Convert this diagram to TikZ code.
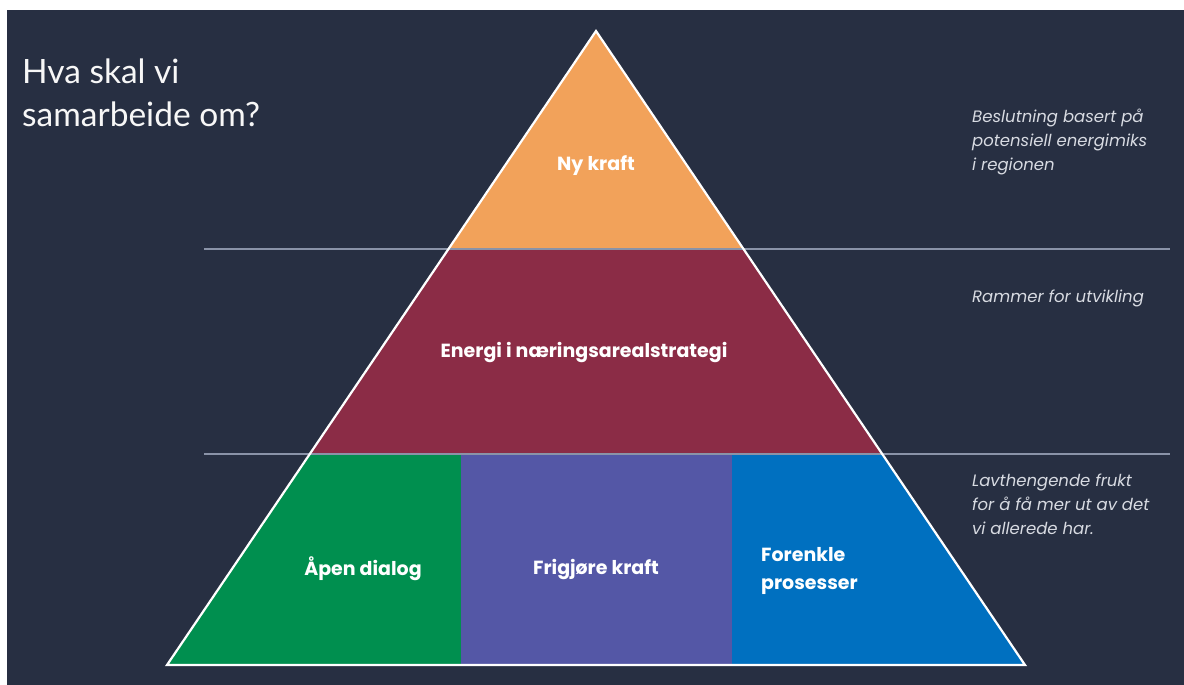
\documentclass[tikz,border=0pt]{standalone}
\usepackage{fontspec}
\setmainfont{Lato}
\newfontfamily\popfont{Poppins}
\usetikzlibrary{calc}
\definecolor{bgdark}{HTML}{272F42}
\definecolor{pyorange}{HTML}{F2A25A}
\definecolor{pymaroon}{HTML}{8B2C46}
\definecolor{pygreen}{HTML}{008F4F}
\definecolor{pypurple}{HTML}{5457A6}
\definecolor{pyblue}{HTML}{0070C0}
\definecolor{rulegray}{HTML}{8A93A8}
\definecolor{sidetext}{HTML}{D8DBE2}
\tikzset{
  label/.style={text=white, font=\popfont\fontsize{19}{28}\selectfont\bfseries, inner sep=0pt},
  side/.style={text=sidetext, font=\popfont\fontsize{16.5}{24}\selectfont\itshape, align=left, anchor=west, inner sep=0pt},
  rule/.style={draw=rulegray, line width=1.3pt},
  outline/.style={draw=white, line width=2.2pt, line join=miter},
  titletext/.style={anchor=base west, inner sep=0pt, text=white!94!gray, font=\fontsize{33.5}{42}\selectfont}
}
\begin{document}
\begin{tikzpicture}[x=1pt,y=-1pt]
\useasboundingbox (0,0) rectangle (1184,685);
\fill[white] (0,0) rectangle (1184,685);
\fill[bgdark] (7,10) rectangle (1184,685);
% pyramid geometry
\coordinate (apex) at (596,31);
\coordinate (bl) at (167,665);
\coordinate (br) at (1025,665);
\coordinate (l1) at ($(apex)!0.34385!(bl)$);
\coordinate (r1) at ($(apex)!0.34385!(br)$);
\coordinate (l2) at ($(apex)!0.66719!(bl)$);
\coordinate (r2) at ($(apex)!0.66719!(br)$);
\coordinate (g1) at (461,454);
\coordinate (g2) at (461,665);
\coordinate (p1) at (732,454);
\coordinate (p2) at (732,665);
\fill[pyorange] (apex) -- (r1) -- (l1) -- cycle;
\fill[pymaroon] (l1) -- (r1) -- (r2) -- (l2) -- cycle;
\fill[pygreen] (l2) -- (g1) -- (g2) -- (bl) -- cycle;
\fill[pypurple] (g1) -- (p1) -- (p2) -- (g2) -- cycle;
\fill[pyblue] (p1) -- (r2) -- (br) -- (p2) -- cycle;
% horizontal rules
\coordinate (ra) at (204,249);
\coordinate (rb) at (1170,249);
\coordinate (rc) at (204,454);
\coordinate (rd) at (1170,454);
\draw[rule] (ra) -- (rb);
\draw[rule] (rc) -- (rd);
\draw[outline] (apex) -- (br) -- (bl) -- cycle;
% title
\node[titletext] (t1) at (22,84) {Hva skal vi};
\node[titletext] (t2) at (22,126) {samarbeide om?};
% labels
\node[label] (ny) at (596,166) {Ny kraft};
\node[label] (energi) at (584,353) {Energi i næringsarealstrategi};
\node[label] (apen) at (363,569) {Åpen dialog};
\node[label] (frig) at (596,569) {Frigjøre kraft};
\node[label, align=left, anchor=west] (forenkle) at (761,571) {Forenkle\\prosesser};
% side texts
\node[side] (s1) at (972,142) {Beslutning basert på\\potensiell energimiks\\i regionen};
\node[side] (s2) at (972,298) {Rammer for utvikling};
\node[side] (s3) at (972,504) {Lavthengende frukt\\for å få mer ut av det\\vi allerede har.};
\end{tikzpicture}
\end{document}
